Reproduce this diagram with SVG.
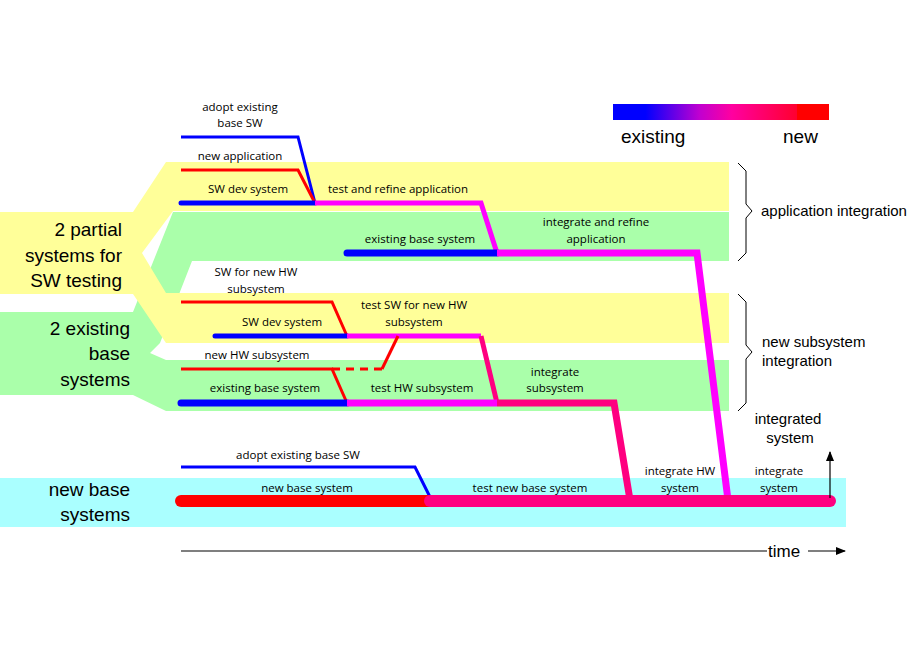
<svg xmlns="http://www.w3.org/2000/svg" width="920" height="660" viewBox="0 0 920 660">
<defs>
<linearGradient id="lg" x1="0" x2="1" y1="0" y2="0">
<stop offset="0" stop-color="#0000ff"/><stop offset="0.15" stop-color="#0000ff"/><stop offset="0.4" stop-color="#c000d0"/><stop offset="0.55" stop-color="#ff00a0"/><stop offset="0.85" stop-color="#ff0030"/><stop offset="0.85" stop-color="#ff0000"/><stop offset="1" stop-color="#ff0000"/>
</linearGradient>
<marker id="ah" markerWidth="10" markerHeight="8" refX="9" refY="4" orient="auto" markerUnits="userSpaceOnUse"><path d="M0,0 L10,4 L0,8 Z" fill="#000"/></marker>
</defs>
<style>
.t{font-family:"Open Sans","Liberation Sans",sans-serif;font-size:11.5px;fill:#000;text-anchor:middle}
.b{font-family:"Liberation Sans",sans-serif;font-size:19px;fill:#000;text-anchor:end}
.m{font-family:"Liberation Sans",sans-serif;font-size:15px;fill:#000}
.l{fill:none;stroke-linejoin:miter}
.blue{stroke:#0000ff}.red{stroke:#ff0000}.mag{stroke:#ff00ff}.pink{stroke:#ff0080}
</style>
<rect width="920" height="660" fill="#fff"/>
<g id="bands">
<polygon fill="#aaffaa" points="173,212 729,212 729,261 192,261 160,343 150,353 166,360 729,360 729,411 166,411 133,395 0,395 0,312 133,312"/>
<polygon fill="#ffff99" points="0,212 133,212 166,162 729,162 729,211 173,211 142,253 166,293 729,293 729,343 166,343 133,294 0,294"/>
<rect x="0" y="478" width="846" height="49" fill="#aaffff"/>
</g>
<g id="labels-big">
<text class="b" x="122" y="236">2 partial</text><text class="b" x="122" y="262">systems for</text><text class="b" x="122" y="287">SW testing</text>
<text class="b" x="130" y="335">2 existing</text><text class="b" x="130" y="360">base</text><text class="b" x="130" y="386">systems</text>
<text class="b" x="130" y="496">new base</text><text class="b" x="130" y="521">systems</text>
</g>
<g id="legend">
<rect x="613" y="104" width="216" height="16" fill="url(#lg)"/>
<text x="621" y="143" font-family="Liberation Sans, sans-serif" font-size="19">existing</text>
<text x="783" y="143" font-family="Liberation Sans, sans-serif" font-size="19">new</text>
</g>
<g id="braces" fill="none" stroke="#000" stroke-width="1">
<path d="M738,163 L746,171 L746,204 L752,211 L746,218 L746,253 L738,261"/>
<path d="M738,294 L746,302 L746,345 L752,352 L746,359 L746,403 L738,411"/>
</g>
<g id="side-labels">
<text class="m" x="761" y="216">application integration</text>
<text class="m" x="762" y="347">new subsystem</text><text class="m" x="762" y="366">integration</text>
<text class="m" x="788" y="424" text-anchor="middle">integrated</text><text class="m" x="790" y="443" text-anchor="middle">system</text>
</g>
<g id="connectors">
<polyline class="l blue" stroke-width="3" points="181,137 298,137 315,203"/>
<polyline class="l red" stroke-width="3" points="181,170 298,170 315,203"/>
<polyline class="l blue" stroke-width="5" points="181,203 315,203" stroke-linecap="round"/>
<polyline class="l mag" stroke-width="5" points="315,203 481,203 497,253"/>
<polyline class="l blue" stroke-width="7" points="347,253 497,253" stroke-linecap="round"/>
<polyline class="l mag" stroke-width="7" points="497,253 697,253 728,500"/>
<polyline class="l red" stroke-width="3" points="181,302 332,302 347,336"/>
<polyline class="l blue" stroke-width="5" points="215,336 347,336" stroke-linecap="round"/>
<polyline class="l mag" stroke-width="5" points="347,336 481,336"/>
<polyline class="l pink" stroke-width="5" points="481,336 497,403"/>
<polyline class="l red" stroke-width="3" points="181,369 332,369 347,403"/>
<line class="red" stroke-width="3" x1="332" y1="369" x2="382" y2="369" stroke-dasharray="8,6"/>
<polyline class="l red" stroke-width="3" points="382,369 398,336"/>
<line class="blue" stroke-width="7" x1="181" y1="403" x2="347" y2="403" stroke-linecap="round"/>
<line class="mag" stroke-width="7" x1="347" y1="403" x2="497" y2="403"/>
<polyline class="l pink" stroke-width="7" points="497,403 614,403 630,500"/>
<polyline class="l blue" stroke-width="3" points="181,467 415,467 430,497"/>
<line class="red" stroke-width="12" x1="181" y1="501" x2="430" y2="501" stroke-linecap="round"/>
<line class="pink" stroke-width="12" x1="430" y1="501" x2="830" y2="501" stroke-linecap="round"/>
<line stroke="#000" stroke-width="1.2" x1="830" y1="498" x2="830" y2="452" marker-end="url(#ah)"/>
<line stroke="#000" stroke-width="1.2" x1="181" y1="551" x2="767" y2="551"/>
<line stroke="#000" stroke-width="1.2" x1="808" y1="551" x2="845" y2="551" marker-end="url(#ah)"/>
</g>
<text x="768" y="557" font-family="Liberation Sans Narrow, Liberation Sans, sans-serif" font-size="17">time</text>
<g id="step-labels">
<text class="t" x="240" y="111">adopt existing</text><text class="t" x="240" y="127">base SW</text>
<text class="t" x="240" y="160">new application</text>
<text class="t" x="248" y="193">SW dev system</text>
<text class="t" x="398" y="193">test and refine application</text>
<text class="t" x="420" y="243">existing base system</text>
<text class="t" x="596" y="226">integrate and refine</text><text class="t" x="596" y="243">application</text>
<text class="t" x="256" y="276">SW for new HW</text><text class="t" x="256" y="293">subsystem</text>
<text class="t" x="282" y="326">SW dev system</text>
<text class="t" x="414" y="309">test SW for new HW</text><text class="t" x="414" y="326">subsystem</text>
<text class="t" x="257" y="359">new HW subsystem</text>
<text class="t" x="265" y="392">existing base system</text>
<text class="t" x="422" y="392">test HW subsystem</text>
<text class="t" x="555" y="376">integrate</text><text class="t" x="555" y="392">subsystem</text>
<text class="t" x="298" y="459">adopt existing base SW</text>
<text class="t" x="307" y="492">new base system</text>
<text class="t" x="530" y="492">test new base system</text>
<text class="t" x="680" y="475">integrate HW</text><text class="t" x="680" y="492">system</text>
<text class="t" x="779" y="475">integrate</text><text class="t" x="779" y="492">system</text>
</g>
</svg>
